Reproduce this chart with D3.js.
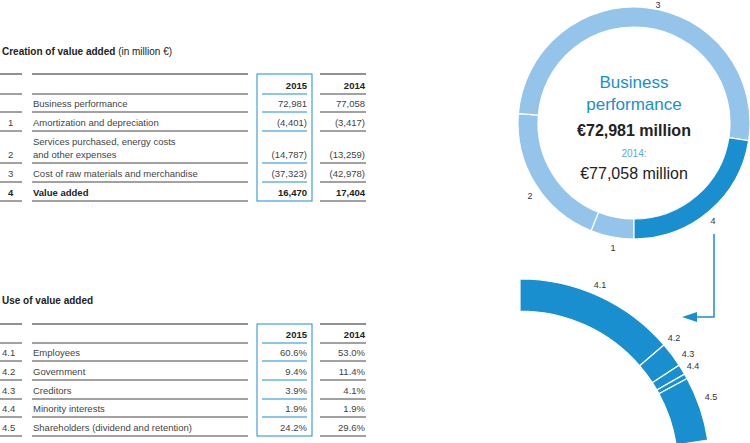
<!DOCTYPE html>
<html><head><meta charset="utf-8">
<script src="https://cdn.jsdelivr.net/npm/d3@7"></script>
<style>body{margin:0;background:#fff}text{font-family:"Liberation Sans",Arial,sans-serif}</style>
</head><body>
<script>
// creation of value added
var createIdx = ["", "1", "2", "3", "4"];
var createLabels = [["Business performance"], ["Amortization and depreciation"],
  ["Services purchased, energy costs", "and other expenses"], ["Cost of raw materials and merchandise"], ["Value added"]];
var create2015 = ["72,981", "(4,401)", "(14,787)", "(37,323)", "16,470"];
var create2014 = ["77,058", "(3,417)", "(13,259)", "(42,978)", "17,404"];
// use of value added
var useIdx = ["4.1", "4.2", "4.3", "4.4", "4.5"];
var useLabels = [["Employees"], ["Government"], ["Creditors"], ["Minority interests"], ["Shareholders (dividend and retention)"]];
var use2015 = [60.6, 9.4, 3.9, 1.9, 24.2];
var use2014 = [53.0, 11.4, 4.1, 1.9, 29.6];
// donut: business performance split
var ringKeys = ["1", "2", "3", "4"];
var ringVals = [4401, 14787, 37323, 16470];

var W = 750, H = 443;
var dark = "#333", blue = "#1a8fd0", light = "#95c4ea";
var svg = d3.select("body").append("svg").attr("width", W).attr("height", H);

function table(top, title, unit, idx, labels, v15, v14, rowLines, bold) {
  var t = svg.append("text").attr("x", 2).attr("y", top).style("font-size", "10px").style("font-weight", "bold").attr("fill", "#222").text(title);
  if (unit) t.append("tspan").style("font-weight", "normal").text(" " + unit);
  var ys = rowLines; // line positions: top, header, rows...
  ys.forEach(function(y, i) {
    var c = i == 0 ? "#222" : "#444";
    svg.append("line").attr("x1", 0).attr("x2", 22).attr("y1", y).attr("y2", y).attr("stroke", c).attr("stroke-width", 1);
    svg.append("line").attr("x1", 32).attr("x2", 248).attr("y1", y).attr("y2", y).attr("stroke", c).attr("stroke-width", 1);
    svg.append("line").attr("x1", 320).attr("x2", 366).attr("y1", y).attr("y2", y).attr("stroke", c).attr("stroke-width", 1);
    if (i > 0 && i < ys.length - 1) svg.append("line").attr("x1", 262).attr("x2", 307).attr("y1", y).attr("y2", y).attr("stroke", blue).attr("stroke-width", 1);
  });
  svg.append("rect").attr("x", 257).attr("y", ys[0]).attr("width", 55).attr("height", ys[ys.length-1] - ys[0])
    .attr("fill", "none").attr("stroke", blue).attr("stroke-width", 1);
  svg.append("text").attr("x", 307).attr("y", ys[1] - 5).attr("text-anchor", "end").style("font-size", "9.5px").style("font-weight", "bold").attr("fill", "#222").text("2015");
  svg.append("text").attr("x", 365).attr("y", ys[1] - 5).attr("text-anchor", "end").style("font-size", "9.5px").style("font-weight", "bold").attr("fill", "#222").text("2014");
  idx.forEach(function(d, i) {
    var y = ys[i + 2] - 5, b = bold && i == idx.length - 1;
    var st = function(s) { return s.style("font-size", "9.5px").style("font-weight", b ? "bold" : "normal").attr("fill", b ? "#222" : "#444"); };
    st(svg.append("text").attr("x", d.length > 1 ? 2 : 8).attr("y", y).text(d));
    labels[i].forEach(function(l, j) {
      st(svg.append("text").attr("x", 33).attr("y", y - (labels[i].length - 1 - j) * 13).text(l));
    });
    st(svg.append("text").attr("x", 307).attr("y", y).attr("text-anchor", "end").text(v15[i]));
    st(svg.append("text").attr("x", 365).attr("y", y).attr("text-anchor", "end").text(v14[i]));
  });
}
table(55, "Creation of value added", "(in million €)", createIdx, createLabels, create2015, create2014, [74, 94, 112, 131, 163, 182, 201], true);
table(304, "Use of value added", "", useIdx, useLabels,
  use2015.map(function(v){return v.toFixed(1)+"%";}), use2014.map(function(v){return v.toFixed(1)+"%";}), [324, 343, 361, 380, 399, 417, 436], false);

// donut
var cx = 634, cy = 123;
var pie = d3.pie().sort(null).startAngle(Math.PI).endAngle(3 * Math.PI);
var arcs = pie(ringVals);
var arc = d3.arc().innerRadius(96).outerRadius(116);
var g = svg.append("g").attr("transform", "translate(" + cx + "," + cy + ")");
g.selectAll("path").data(arcs).join("path").attr("d", arc)
  .attr("fill", function(d, i) { return i == 3 ? blue : light; }).attr("stroke", "#fff").attr("stroke-width", 1.2);
var labelPos = [[613, 251], [530, 199], [658, 8], [713, 224]];
ringKeys.forEach(function(k, i) {
  svg.append("text").attr("x", labelPos[i][0]).attr("y", labelPos[i][1]).attr("text-anchor", "middle").style("font-size", "9px").attr("fill", "#333").text(k);
});
var ct = [["Business", 88, 17, "normal", blue], ["performance", 110, 17, "normal", blue], ["€72,981 million", 136, 16, "bold", "#222"],
  ["2014:", 157, 10, "normal", "#5aa9e0"], ["€77,058 million", 179, 16, "normal", "#222"]];
ct.forEach(function(c) {
  svg.append("text").attr("x", cx).attr("y", c[1]).attr("text-anchor", "middle").style("font-size", c[2] + "px")
    .style("font-weight", c[3]).attr("fill", c[4]).text(c[0]);
});

// arrow
svg.append("path").attr("d", "M714,234 V317 H694").attr("fill", "none").attr("stroke", blue).attr("stroke-width", 1.5);
svg.append("path").attr("d", "M682,317 L697,312 L697,322 Z").attr("fill", blue);

// lower partial arc: value-added share laid out over the same angle
var va = arcs[3].endAngle - arcs[3].startAngle;
var pie2 = d3.pie().sort(null).startAngle(0).endAngle(va * d3.sum(use2015) / 100);
var arc2 = d3.arc().innerRadius(158).outerRadius(190);
var g2 = svg.append("g").attr("transform", "translate(520,469)");
g2.selectAll("path").data(pie2(use2015)).join("path").attr("d", arc2)
  .attr("fill", blue).attr("stroke", "#fff").attr("stroke-width", 1.2);
var lp = [[600, 288], [674, 341], [688, 357], [693, 369], [711, 400]];
useIdx.forEach(function(k, i) {
  svg.append("text").attr("x", lp[i][0]).attr("y", lp[i][1]).attr("text-anchor", "middle").style("font-size", "9px").attr("fill", "#333").text(k);
});
</script>
</body></html>
